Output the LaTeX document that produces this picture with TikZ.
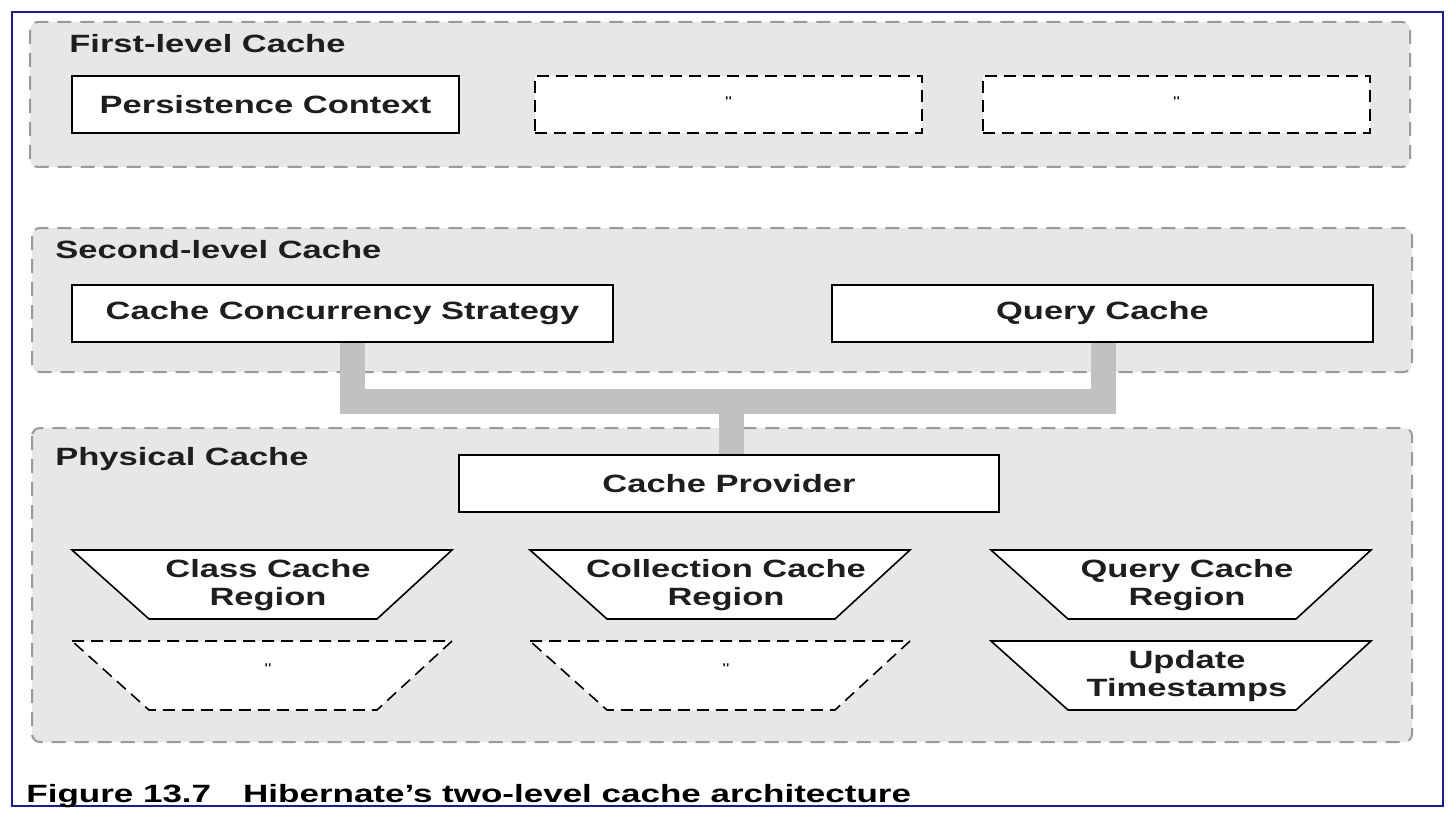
\documentclass[tikz,border=0pt]{standalone}
\usepackage{fontspec}
\newfontfamily\wide{Liberation Sans}[FakeStretch=1.38]
\newfontfamily\widecap{Liberation Sans}[FakeStretch=1.40]
\usetikzlibrary{positioning}
\pgfdeclarelayer{back}
\pgfdeclarelayer{mid}
\pgfsetlayers{back,mid,main}
\definecolor{grpfill}{HTML}{E6E7E6}
\definecolor{grpline}{HTML}{9A9A9A}
\definecolor{barc}{HTML}{C0C1C0}
\definecolor{frame}{HTML}{1C1C8C}
\definecolor{txt}{HTML}{1E1E1E}
\tikzset{
  grp/.style={draw=grpline, fill=grpfill, line width=1pt, rounded corners=4pt, dash pattern=on 7pt off 4.5pt},
  solidbox/.style={draw=black, fill=white, line width=0.8pt, inner sep=0pt, font=\wide\bfseries\fontsize{12.5}{14}\selectfont, text=txt},
  dashbox/.style={draw=black, fill=white, line width=0.8pt, inner sep=0pt, dash pattern=on 6pt off 3.5pt, font=\wide\fontsize{7}{8}\selectfont},
  trap/.style={draw=black, fill=white, line width=0.8pt},
  trapdash/.style={draw=black, fill=white, line width=0.8pt, dash pattern=on 6pt off 3.5pt},
  traptext/.style={align=center, inner sep=0pt, font=\wide\bfseries\fontsize{12.5}{14}\selectfont, text=txt},
  grptitle/.style={anchor=base west, inner sep=0pt, font=\wide\bfseries\fontsize{12.5}{14}\selectfont, text=txt},
  bar/.style={draw=barc, line width=12.5pt}
}
\begin{document}
\begin{tikzpicture}[x=0.5pt, y=-0.5pt]
\useasboundingbox (0,0) rectangle (1454,818);

\begin{pgfonlayer}{back}
\fill[white] (0,0) rectangle (1454,818);
\draw[grp] (30,22) rectangle (1410,167);
\draw[grp] (32,228) rectangle (1412,372);
\draw[grp] (32,428) rectangle (1412,742);
\end{pgfonlayer}
\draw[frame, line width=0.8pt] (12,12) rectangle (1443,806);

\node[grptitle] (t1) at (69,53) {First-level Cache};
\node[grptitle] (t2) at (55,258) {Second-level Cache};
\node[grptitle] (t3) at (55,465) {Physical Cache};

\node[solidbox, minimum width=193.5pt, minimum height=28.5pt] (pc) at (265.5,104.5) {Persistence Context};
\node[dashbox, minimum width=193.5pt, minimum height=28.5pt] (d1) at (728.5,104.5) {\raisebox{3pt}{"}};
\node[dashbox, minimum width=193.5pt, minimum height=28.5pt] (d2) at (1176.5,104.5) {\raisebox{3pt}{"}};

\node[solidbox, minimum width=270.5pt, minimum height=28.5pt] (ccs) at (342.5,313.5) {Cache Concurrency Strategy};
\node[solidbox, minimum width=270.5pt, minimum height=28.5pt] (qc) at (1102.5,313.5) {Query Cache};

\node[solidbox, minimum width=270pt, minimum height=28.5pt] (cp) at (729,483.5) {Cache Provider};

% connectors
\coordinate (jl) at (352.5,401);
\coordinate (jr) at (1103.5,401);
\coordinate (jc) at (731.5,401);
\begin{pgfonlayer}{mid}
\draw[bar] (ccs.south -| jl) -- (jl) -- (jr) -- (qc.south -| jr);
\draw[bar] (jc) -- (cp.north -| jc);
\end{pgfonlayer}

% trapezoids row 1
\draw[trap] (72,550) -- (452,550) -- (377,619) -- (149,619) -- cycle;
\node[traptext] (ccr) at (268,585) {Class Cache\\Region};
\draw[trap] (530,550) -- (910,550) -- (835,619) -- (607,619) -- cycle;
\node[traptext] (colr) at (726,585) {Collection Cache\\Region};
\draw[trap] (991,550) -- (1371,550) -- (1296,619) -- (1068,619) -- cycle;
\node[traptext] (qcr) at (1187,585) {Query Cache\\Region};

% trapezoids row 2
\draw[trapdash] (72,641) -- (452,641) -- (377,710) -- (149,710) -- cycle;
\node[inner sep=0pt, font=\wide\fontsize{7}{8}\selectfont] (q1) at (268,669) {"};
\draw[trapdash] (530,641) -- (910,641) -- (835,710) -- (607,710) -- cycle;
\node[inner sep=0pt, font=\wide\fontsize{7}{8}\selectfont] (q2) at (726,669) {"};
\draw[trap] (991,641) -- (1371,641) -- (1296,710) -- (1068,710) -- cycle;
\node[traptext] (ut) at (1187,676) {Update\\Timestamps};

\node[anchor=base west, inner sep=0pt, font=\widecap\bfseries\fontsize{12.5}{14}\selectfont] (cap) at (26,802) {Figure 13.7\hspace{16pt}Hibernate’s two-level cache architecture};
\end{tikzpicture}
\end{document}
